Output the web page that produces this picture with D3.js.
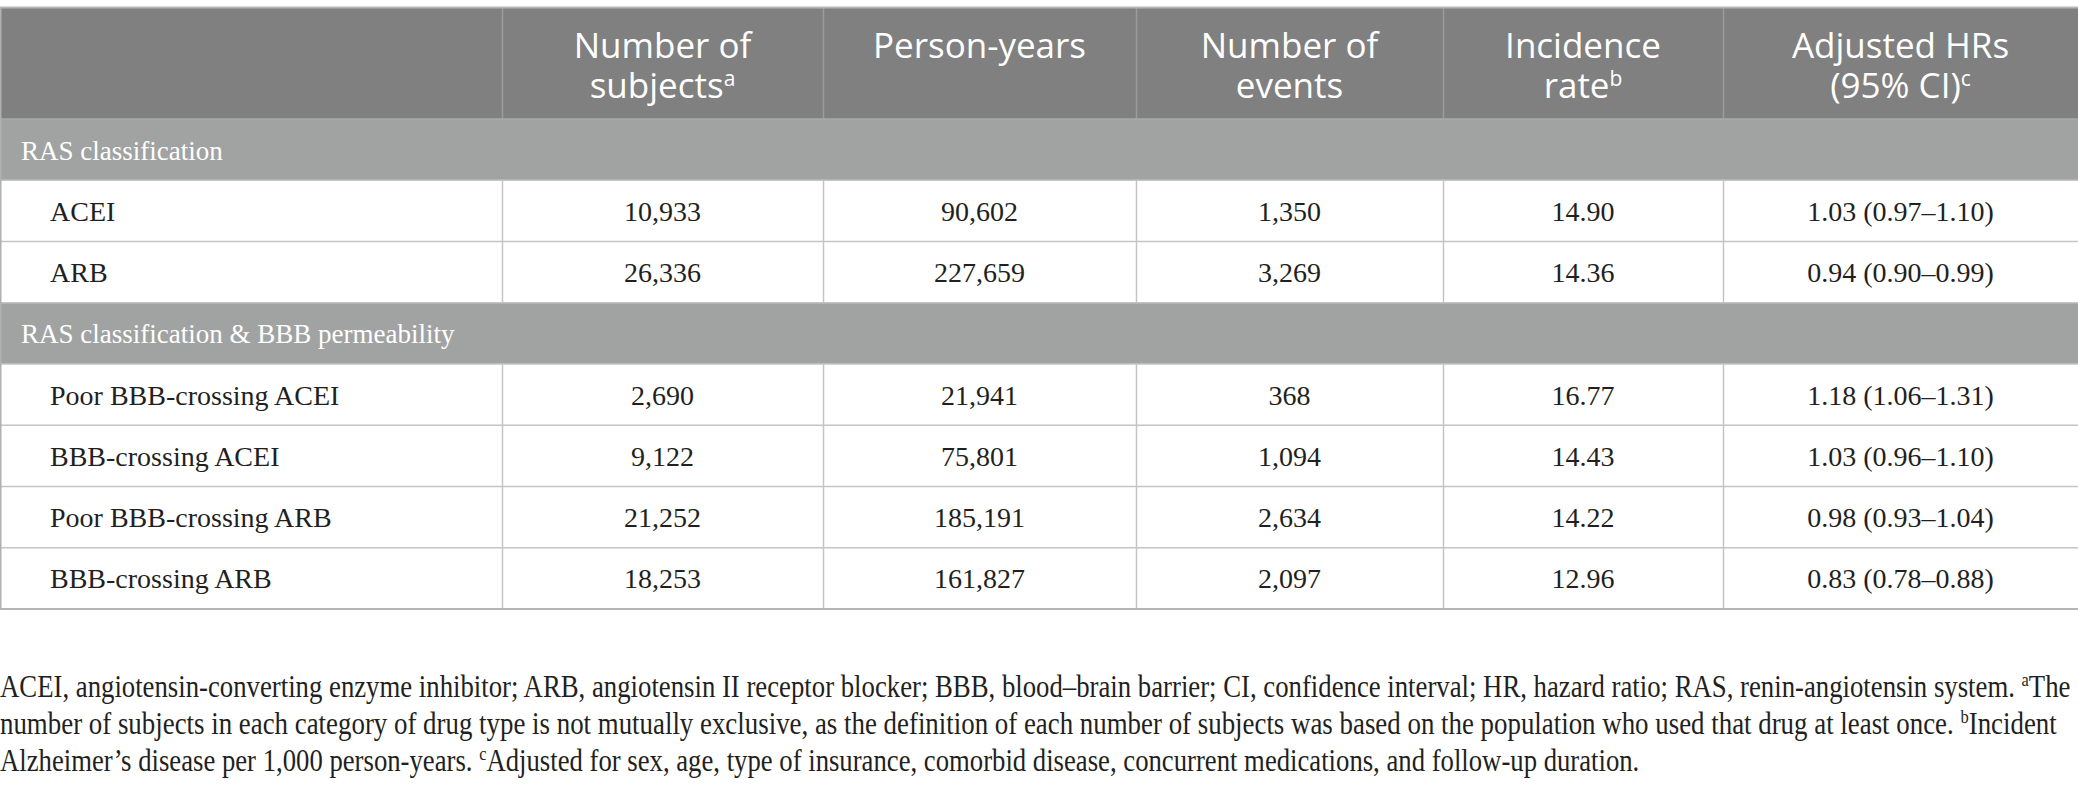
<!DOCTYPE html>
<html>
<head>
<meta charset="utf-8">
<script src="https://cdn.jsdelivr.net/npm/d3@7"></script>
<style>
  html, body { margin: 0; padding: 0; background: #fff; }
  svg { display: block; }
</style>
</head>
<body>
<svg id="chart" width="2078" height="791"></svg>
<script>
// table content
const headers = [
  { lines: [] },
  { lines: ["Number of", "subjects"], sup: "a" },
  { lines: ["Person-years"] },
  { lines: ["Number of", "events"] },
  { lines: ["Incidence", "rate"], sup: "b" },
  { lines: ["Adjusted HRs", "(95% CI)"], sup: "c" }
];
const groups = ["RAS classification", "RAS classification & BBB permeability"];
const drugs = ["ACEI", "ARB", "Poor BBB-crossing ACEI", "BBB-crossing ACEI", "Poor BBB-crossing ARB", "BBB-crossing ARB"];
const drugGroup = [0, 0, 1, 1, 1, 1];
const subjects = [10933, 26336, 2690, 9122, 21252, 18253];
const personYears = [90602, 227659, 21941, 75801, 185191, 161827];
const events = [1350, 3269, 368, 1094, 2634, 2097];
const incidence = [14.90, 14.36, 16.77, 14.43, 14.22, 12.96];
const hr = [1.03, 0.94, 1.18, 1.03, 0.98, 0.83];
const hrLow = [0.97, 0.90, 1.06, 0.96, 0.93, 0.78];
const hrHigh = [1.10, 0.99, 1.31, 1.10, 1.04, 0.88];
// footnote lines as [text, superscript-after] pieces
const footnotes = [
  [["ACEI, angiotensin-converting enzyme inhibitor; ARB, angiotensin II receptor blocker; BBB, blood\u2013brain barrier; CI, confidence interval; HR, hazard ratio; RAS, renin-angiotensin system. ", "a"], ["The", ""]],
  [["number of subjects in each category of drug type is not mutually exclusive, as the definition of each number of subjects was based on the population who used that drug at least once. ", "b"], ["Incident", ""]],
  [["Alzheimer\u2019s disease per 1,000 person-years. ", "c"], ["Adjusted for sex, age, type of insurance, comorbid disease, concurrent medications, and follow-up duration.", ""]]
];

// layout
const W = 2078;
const colEdges = [0, 502, 823, 1136, 1443, 1723, W];
const tableTop = 8, headH = 111, bodyBottom = 609;
const fnWidths = [2072, 2058, 1640];
const headBg = "#7f807f", groupBg = "#a1a3a2", lineCol = "#c4c4c4", ink = "#231f20";
const serif = "'Liberation Serif', 'DejaVu Serif', serif";
const sans = "'Open Sans', 'Noto Sans', sans-serif";

const fmtInt = d3.format(",");
const fmt2 = d3.format(".2f");

// build row list: group rows interleaved with data rows
const rows = [];
groups.forEach((g, gi) => {
  rows.push({ type: "group", label: g });
  drugs.forEach((d, i) => {
    if (drugGroup[i] === gi) {
      rows.push({
        type: "data",
        cells: [d, fmtInt(subjects[i]), fmtInt(personYears[i]), fmtInt(events[i]),
          fmt2(incidence[i]), `${fmt2(hr[i])} (${fmt2(hrLow[i])}\u2013${fmt2(hrHigh[i])})`]
      });
    }
  });
});

const svg = d3.select("#chart");
const y = d3.scaleBand().domain(d3.range(rows.length)).range([tableTop + headH, bodyBottom]);
const x = d3.scaleOrdinal().domain(d3.range(headers.length)).range(colEdges.slice(0, -1));
const cw = i => colEdges[i + 1] - colEdges[i];

// header
svg.append("rect").attr("x", 0).attr("y", tableTop).attr("width", W).attr("height", headH).attr("fill", headBg);

const head = svg.selectAll("g.head").data(headers).join("g").attr("class", "head")
  .attr("transform", (d, i) => `translate(${x(i) + cw(i) / 2},${tableTop})`);
head.each(function (d) {
  const g = d3.select(this);
  d.lines.forEach((ln, li) => {
    const t = g.append("text").attr("x", 0).attr("y", 50 + li * 40)
      .attr("text-anchor", "middle").attr("fill", "#fff")
      .attr("font-family", sans).attr("font-size", 35);
    t.append("tspan").text(ln);
    if (d.sup && li === d.lines.length - 1) {
      t.append("tspan").attr("dy", -12).attr("font-size", 21).text(d.sup);
    }
  });
});
// header column separators
svg.selectAll("line.hsep").data(colEdges.slice(1, -1)).join("line").attr("class", "hsep")
  .attr("x1", d => d + 0.5).attr("x2", d => d + 0.5)
  .attr("y1", tableTop).attr("y2", tableTop + headH)
  .attr("stroke", "#9b9c9b").attr("stroke-width", 1.5);

// body rows
const rowG = svg.selectAll("g.row").data(rows).join("g").attr("class", "row")
  .attr("transform", (d, i) => `translate(0,${y(i)})`);

rowG.filter(d => d.type === "group").each(function (d) {
  const g = d3.select(this);
  g.append("rect").attr("width", W).attr("height", y.bandwidth()).attr("fill", groupBg);
  g.append("text").attr("x", 21).attr("y", y.bandwidth() / 2 + 10)
    .attr("font-family", serif).attr("font-size", 27).attr("fill", "#fff").text(d.label);
});

rowG.filter(d => d.type === "data").each(function (d) {
  const g = d3.select(this);
  g.append("rect").attr("width", W).attr("height", y.bandwidth()).attr("fill", "#fff");
  g.selectAll("line.vsep").data(colEdges.slice(1, -1)).join("line").attr("class", "vsep")
    .attr("x1", e => e + 0.5).attr("x2", e => e + 0.5).attr("y1", 0).attr("y2", y.bandwidth())
    .attr("stroke", lineCol).attr("stroke-width", 1.5);
  g.selectAll("text").data(d.cells).join("text")
    .attr("x", (c, i) => i === 0 ? 50 : x(i) + cw(i) / 2)
    .attr("text-anchor", (c, i) => i === 0 ? "start" : "middle")
    .attr("y", y.bandwidth() / 2 + 10)
    .attr("font-family", serif).attr("font-size", 28).attr("fill", ink)
    .text(c => c);
});

// horizontal rules and outer border
svg.selectAll("line.hrule").data(d3.range(1, rows.length)).join("line").attr("class", "hrule")
  .attr("x1", 0).attr("x2", W).attr("y1", i => y(i)).attr("y2", i => y(i))
  .attr("stroke", lineCol).attr("stroke-width", 1.5);
svg.append("line").attr("x1", 0).attr("x2", W).attr("y1", tableTop + headH).attr("y2", tableTop + headH)
  .attr("stroke", "#a8a8a8").attr("stroke-width", 1.5);
svg.append("line").attr("x1", 0).attr("x2", W).attr("y1", tableTop - 0.5).attr("y2", tableTop - 0.5)
  .attr("stroke", "#b5b5b5").attr("stroke-width", 2);
svg.append("line").attr("x1", 0).attr("x2", W).attr("y1", bodyBottom).attr("y2", bodyBottom)
  .attr("stroke", "#b5b5b5").attr("stroke-width", 2);
svg.append("line").attr("x1", 0.75).attr("x2", 0.75).attr("y1", tableTop).attr("y2", bodyBottom)
  .attr("stroke", "#b0b0b0").attr("stroke-width", 1.5);

// footnotes: tall narrow serif, squeezed horizontally to the source's line widths
const fn = svg.selectAll("g.fn").data(footnotes).join("g").attr("class", "fn");
fn.each(function (parts, li) {
  const g = d3.select(this);
  const t = g.append("text").attr("x", 0).attr("y", 0)
    .attr("font-family", serif).attr("font-size", 31).attr("fill", ink);
  parts.forEach(([txt, sup], k) => {
    t.append("tspan").attr("dy", k > 0 ? 11 : 0).text(txt);
    if (sup) t.append("tspan").attr("dy", -11).attr("font-size", 19).text(sup);
  });
  const natural = t.node().getComputedTextLength();
  g.attr("transform", `translate(0,${697 + li * 37}) scale(${fnWidths[li] / natural},1)`);
});
</script>
</body>
</html>
